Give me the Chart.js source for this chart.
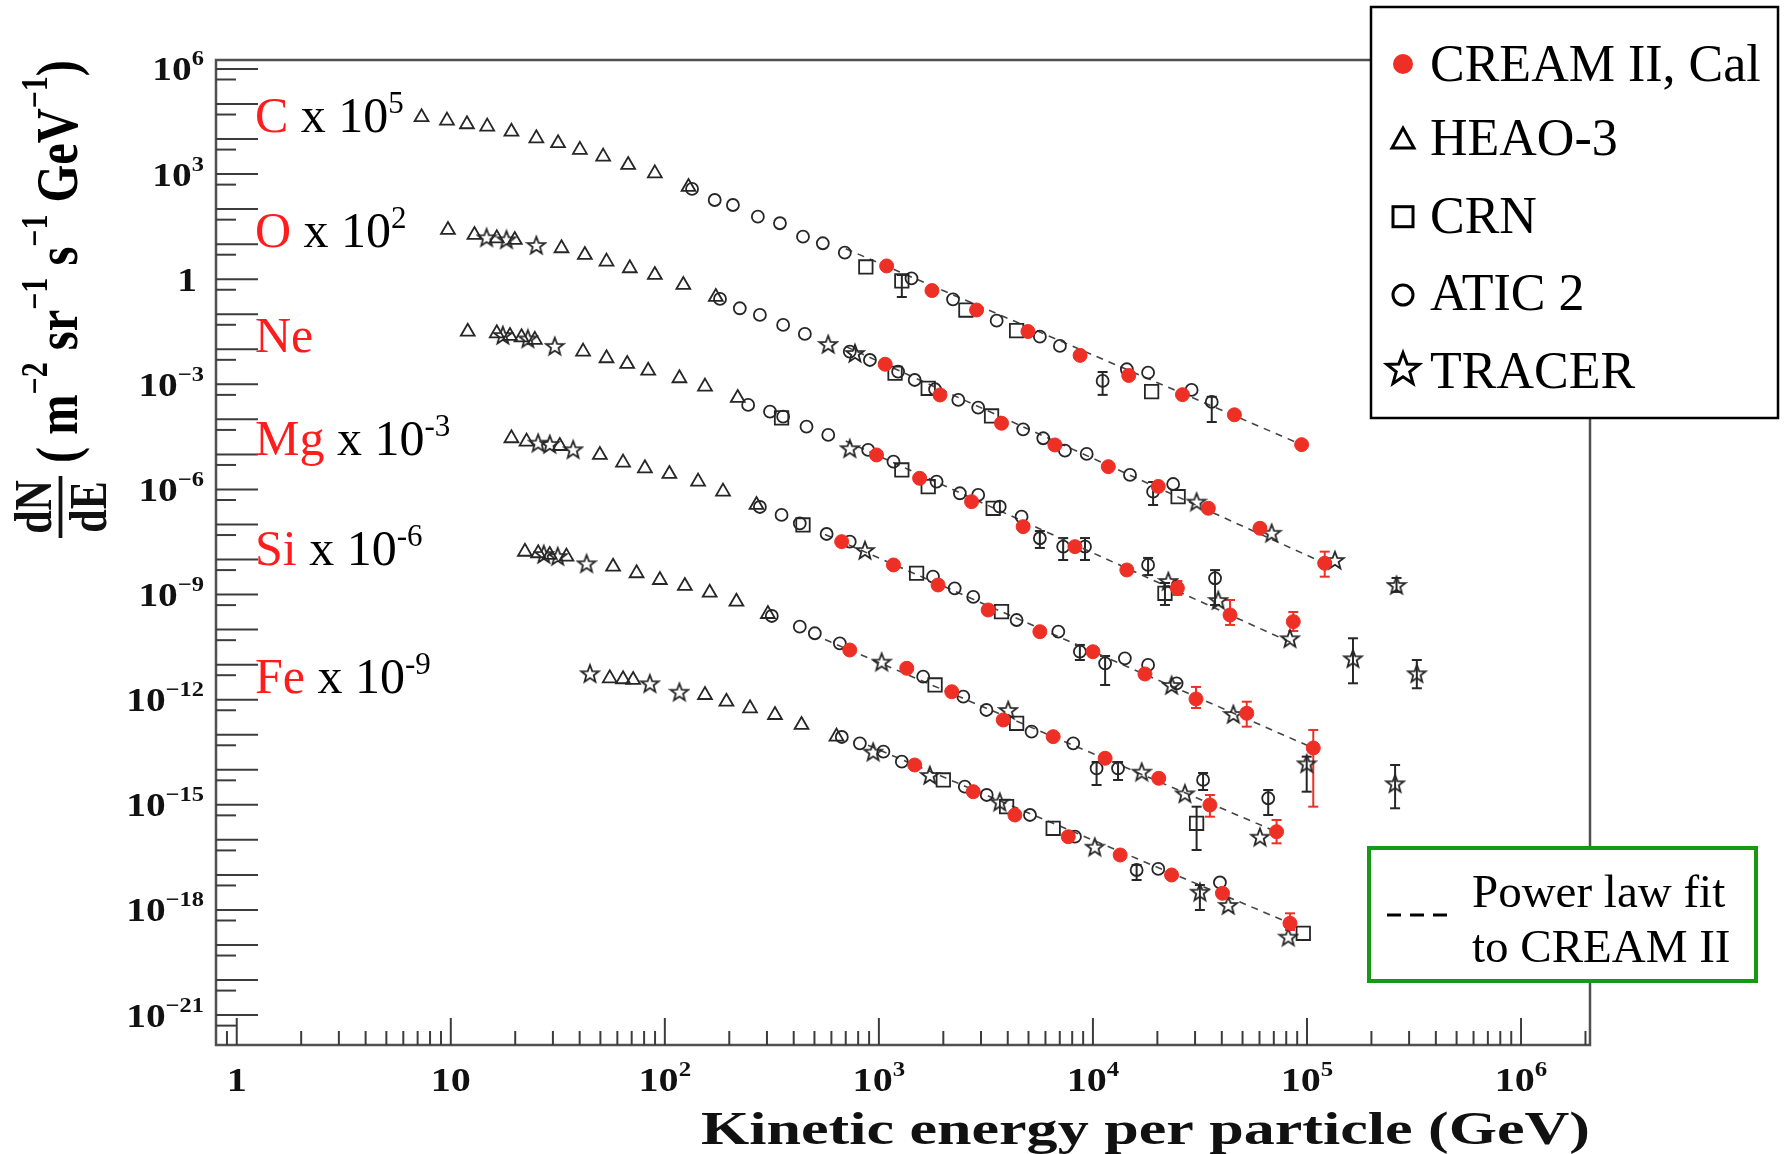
<!DOCTYPE html>
<html>
<head>
<meta charset="utf-8">
<title>CREAM II energy spectra</title>
<script src="https://cdn.jsdelivr.net/npm/chart.js@4.4.1/dist/chart.umd.min.js"></script>
<style>
  html, body { margin: 0; padding: 0; background: #fff; }
</style>
</head>
<body>
<canvas id="chart1" width="1787" height="1154"></canvas>
<script>
// values: [energy GeV, flux (already scaled), err low, err high]

// carbon x 10^5
var cHeao = [[7.3,4.2e4],[9.6,3.35e4],[11.9,2.64e4],[14.8,2.26e4],[19.2,1.62e4],[25.1,1.05e4],[31.7,7.6e3],[40.1,4.9e3],[51.5,3.14e3],[67.4,1.82e3],[89.8,1.05e3],[129,429]];
var cCrn = [[869,2.23],[1280,0.89,0.31,1.32],[2550,0.132],[4400,0.034],[18800,6.2e-4]];
var cAtic = [[134,376],[171,182],[208,131],[272,61],[345,39.5],[442,16.4],[547,10.6],[693,5.71],[1420,1.06],[2220,0.267],[3550,0.0656],[5650,0.0229],[7010,0.0125],[11100,1.25e-3,5.0e-4,2.25e-3],[14400,2.69e-3],[18100,2.15e-3],[28900,6.9e-4],[35900,3.14e-4,8.4e-5,4.4e-4]];
var cTracer = [];
var cCream = [[1087,2.39],[1770,0.474],[2860,0.132],[4970,0.0321],[8710,6.7e-3],[14700,1.79e-3],[26200,5.07e-4],[45800,1.35e-4],[94400,1.9e-5,1.5e-5,2.4e-5]];
var cFit = [[700,7.4],[94400,1.9e-5]];

// oxygen x 10^2
var oHeao = [[9.7,25.4],[12.9,18.3],[16.4,14.7],[19.9,13.2],[32.9,7.64],[42.3,4.92],[53.4,3.17],[68.6,2.05],[89.8,1.32],[122,0.685],[173,0.311]];
var oCrn = [[1190,2.07e-3],[1700,7.72e-4],[3360,1.25e-4],[25000,6.2e-7]];
var oAtic = [[181,0.273],[224,0.148],[278,0.0953],[357,0.0494],[451,0.0274],[731,8.55e-3],[908,4.95e-3],[1230,2.3e-3],[1470,1.33e-3],[1830,7.23e-4],[2350,3.58e-4],[2910,2.16e-4],[4720,5.21e-5],[5860,2.89e-5],[7400,1.28e-5],[9350,1.03e-5],[14900,2.59e-6],[19100,8.65e-7,3.6e-7,1.63e-6],[23700,1.43e-6]];
var oTracer = [[14.7,15.7],[18.2,13.8],[25.1,9.48],[580,0.0142],[773,7.85e-3],[30500,4.5e-7],[68400,5.8e-8],[135000,9.7e-9],[262000,1.88e-9,1.19e-9,2.98e-9]];
var oCream = [[1070,3.74e-3],[1930,4.97e-4],[3740,7.74e-5],[6640,1.86e-5],[11800,4.47e-6],[20200,1.22e-6],[34600,2.9e-7],[60300,7.8e-8],[121000,7.8e-9,3.24e-9,1.68e-8]];
var oFit = [[700,0.012],[121000,7.8e-9]];

// neon
var neHeao = [[12.0,0.0318],[16.4,0.0286],[18.9,0.024],[21.4,0.022],[24.7,0.0185],[41.5,8.55e-3],[53.4,5.55e-3],[66.7,3.81e-3],[83.6,2.45e-3],[117,1.49e-3],[154,8.57e-4],[219,4.08e-4]];
var neCrn = [[351,1.1e-4],[1280,3.6e-6],[1700,1.2e-6],[3420,2.9e-7],[21700,1.09e-9,5.05e-10,2.14e-9]];
var neAtic = [[245,2.58e-4],[310,1.66e-4],[357,1.19e-4],[459,6.19e-5],[580,3.59e-5],[891,1.34e-5],[1170,6.21e-6],[1860,1.67e-6],[2390,7.78e-7],[2910,7.0e-7],[3670,3.23e-7],[4640,1.67e-7],[5650,4.05e-8,2.14e-8,6.5e-8],[7260,2.33e-8,9.7e-9,4.1e-8],[9180,2.33e-8,9.7e-9,4.1e-8],[18100,7.0e-9,3.6e-9,1.11e-8],[37200,2.92e-9,5.05e-10,5.0e-9]];
var neTracer = [[17.5,0.0256],[22.9,0.0204],[30.6,0.0125],[731,1.5e-5],[22500,2.44e-9],[38500,7.0e-10],[83300,5.66e-11],[164000,1.52e-11,2.94e-12,5.66e-11],[326000,5.68e-12,2.12e-12,1.36e-11]];
var neCream = [[975,9.64e-6],[1550,2.08e-6],[2710,4.48e-7],[4720,8.67e-8],[8240,2.33e-8],[14400,5.04e-9],[24800,1.54e-9,9.75e-10,2.44e-9],[43700,2.62e-10,1.36e-10,7.0e-10],[86300,1.69e-10,9.1e-11,3.18e-10]];
var neFit = [[700,2.4e-5],[86300,4.0e-11]];

// magnesium x 10^-3
var mgHeao = [[19.2,2.89e-5],[22.6,2.31e-5],[32.3,1.74e-5],[49.7,9.64e-6],[63.8,5.81e-6],[80.7,4.02e-6],[105,2.77e-6],[143,1.67e-6],[187,8.65e-7],[268,3.61e-7]];
var mgCrn = [[442,9.68e-8],[1500,4.06e-9],[3740,3.25e-10]];
var mgAtic = [[278,3.16e-7],[351,1.87e-7],[427,1.08e-7],[570,5.36e-8],[731,3.24e-8],[1790,3.24e-9],[2260,1.51e-9],[2760,8.55e-10],[4400,1.88e-10],[6890,8.73e-11],[8690,2.34e-11,1.36e-11,3.65e-11],[11400,1.09e-11,2.63e-12,1.77e-11],[14100,1.52e-11],[18100,9.8e-12],[24600,2.94e-12]];
var mgTracer = [[25.6,2.16e-5],[29,1.99e-5],[37.3,1.4e-5],[861,1.87e-8],[23300,2.63e-12],[45300,3.91e-13],[99700,1.53e-14,2.37e-15,2.37e-14],[258000,4.12e-15,7.96e-16,1.37e-14]];
var mgCream = [[670,3.24e-8],[1170,7.0e-9],[1890,1.88e-9],[3240,3.63e-10],[5650,8.73e-11],[10000,2.34e-11],[17500,5.42e-12],[30300,1.05e-12,5.8e-13,2.31e-12],[52300,4.1e-13,1.7e-13,8.77e-13],[107000,4.19e-14,8.85e-16,1.37e-13]];
var mgFit = [[560,5.2e-8],[100000,5.0e-14]];

// silicon x 10^-6
var siHeao = [[22.2,1.67e-8],[25.6,1.51e-8],[29,1.35e-8],[34.7,1.21e-8],[57.3,6.25e-9],[73.8,4.06e-9],[94.8,2.61e-9],[124,1.76e-9],[162,1.13e-9],[216,6.27e-10],[303,2.79e-10]];
var siCrn = [[1830,2.63e-12],[4400,2.12e-13],[30500,2.97e-16,5.14e-17,8.85e-16]];
var siAtic = [[316,2.45e-10],[427,1.21e-10],[502,7.87e-11],[657,4.07e-11],[1610,4.54e-12],[2480,1.22e-12],[3180,5.09e-13],[5170,1.22e-13],[8090,5.7e-14],[10400,1.1e-14,3.68e-15,1.67e-14],[13100,1.1e-14,5.12e-15,1.67e-14],[32700,5.12e-15,2.65e-15,8.1e-15],[65900,1.54e-15,5.13e-16,2.65e-15]];
var siTracer = [[27.2,1.44e-8],[31.6,1.26e-8],[43.1,7.82e-9],[1030,1.22e-11],[4020,5.09e-13],[16900,8.83e-15],[26900,2.13e-15],[60300,1.23e-16]];
var siCream = [[731,2.62e-11],[1350,7.88e-12],[2190,1.69e-12],[3810,2.64e-13],[6520,8.81e-14],[11400,2.13e-14],[20300,5.71e-15],[35200,9.89e-16,4.59e-16,1.91e-15],[72100,1.71e-16,7.98e-17,3.69e-16]];
var siFit = [[560,5.2e-11],[72100,1.7e-16]];

// iron x 10^-9
var feHeao = [[55.3,4.08e-12],[63.8,3.83e-12],[71.1,3.66e-12],[154,1.36e-12],[194,8.77e-13],[250,5.69e-13],[327,3.66e-13],[435,1.9e-13],[634,8.81e-14]];
var feCrn = [[2000,5.12e-15],[3950,8.85e-16],[6520,2.14e-16],[96100,2.16e-19]];
var feAtic = [[671,8.63e-14],[815,5.7e-14],[1050,3.29e-14],[1280,1.7e-14],[2520,3.3e-15],[3190,1.91e-15],[5080,5.13e-16],[8240,1.23e-16],[16000,1.38e-17,7.16e-18,1.92e-17],[20200,1.48e-17],[39200,6.08e-18]];
var feTracer = [[44.7,5.68e-12],[85.1,2.94e-12],[117,1.69e-12],[940,3.29e-14],[1730,7.11e-15],[3670,1.23e-15],[10200,6.38e-17],[31600,3.32e-18,9.98e-19,5.15e-18],[42900,1.39e-18],[81800,1.73e-19]];
var feCream = [[1470,1.37e-14],[2760,2.37e-15],[4320,5.13e-16],[7670,1.23e-16],[13400,3.7e-17],[23300,9.95e-18],[40300,2.99e-18],[83300,4.16e-19,2.68e-19,8.02e-19]];
var feFit = [[890,5.0e-14],[83300,4.2e-19]];

// labels
var elementNames = ['C', 'O', 'Ne', 'Mg', 'Si', 'Fe'];
var elementPowers = ['5', '2', '', '-3', '-6', '-9'];
var legendLabels = ['CREAM II, Cal', 'HEAO-3', 'CRN', 'ATIC 2', 'TRACER'];
var fitLabel = ['Power law fit', 'to CREAM II'];
var xTickExps = [0, 1, 2, 3, 4, 5, 6];
var yTickExps = [6, 3, 0, -3, -6, -9, -12, -15, -18, -21];
var xTitle = 'Kinetic energy per particle (GeV)';

var SERIF = '"Liberation Serif", "Times New Roman", serif';
var RED = '#ee2f25';
var INK = '#262626';

function font(size, bold) {
    return (bold ? 'bold ' : '') + size + 'px ' + SERIF;
}

function pts(arr) {
    return arr.map(function (p) {
        return { x: p[0], y: p[1], lo: p[2], hi: p[3] };
    });
}

// 5 point star path (chart.js 'star' is an asterisk)
function starPath(g, cx, cy, r) {
    var ri = r * 0.42;
    g.beginPath();
    for (var i = 0; i < 10; i++) {
        var a = -Math.PI / 2 + i * Math.PI / 5;
        var rr = (i % 2) ? ri : r;
        g.lineTo(cx + rr * Math.cos(a), cy + rr * Math.sin(a) + r * 0.1);
    }
    g.closePath();
}

function starImage(size, lw) {
    var c = document.createElement('canvas');
    c.width = size;
    c.height = size;
    var g = c.getContext('2d');
    starPath(g, size / 2, size / 2, size / 2 - lw);
    g.lineWidth = lw;
    g.strokeStyle = INK;
    g.stroke();
    return c;
}

var starMark = starImage(22, 1.8);

var datasets = [];

function addElement(heao, crn, atic, tracer, cream, fit) {
    datasets.push({ data: pts(cream), pointStyle: 'circle', pointRadius: 7, backgroundColor: RED, borderColor: RED, borderWidth: 1, errColor: RED, order: 0 });
    datasets.push({ data: pts(tracer), pointStyle: starMark, backgroundColor: 'rgba(0,0,0,0)', borderColor: INK, errColor: INK, order: 1 });
    datasets.push({ data: pts(atic), pointStyle: 'circle', pointRadius: 6, backgroundColor: 'rgba(0,0,0,0)', borderColor: INK, borderWidth: 1.8, errColor: INK, order: 2 });
    datasets.push({ data: pts(crn), pointStyle: 'rect', pointRadius: 9.5, backgroundColor: 'rgba(0,0,0,0)', borderColor: INK, borderWidth: 1.8, errColor: INK, order: 3 });
    datasets.push({ data: pts(heao), pointStyle: 'triangle', pointRadius: 8, backgroundColor: 'rgba(0,0,0,0)', borderColor: INK, borderWidth: 1.8, errColor: INK, order: 4 });
    datasets.push({ data: pts(fit), showLine: true, pointRadius: 0, borderColor: '#444', borderWidth: 1.6, borderDash: [7, 6], fill: false, order: 5 });
}

addElement(cHeao, cCrn, cAtic, cTracer, cCream, cFit);
addElement(oHeao, oCrn, oAtic, oTracer, oCream, oFit);
addElement(neHeao, neCrn, neAtic, neTracer, neCream, neFit);
addElement(mgHeao, mgCrn, mgAtic, mgTracer, mgCream, mgFit);
addElement(siHeao, siCrn, siAtic, siTracer, siCream, siFit);
addElement(feHeao, feCrn, feAtic, feTracer, feCream, feFit);

// text with superscripts, parts = [{t, sup, c}]
function drawRich(ctx, parts, x, y, size, bold, raise) {
    ctx.textAlign = 'left';
    parts.forEach(function (p) {
        ctx.font = font(p.sup ? size * 0.62 : size, bold);
        ctx.fillStyle = p.c || '#000';
        ctx.fillText(p.t, x, p.sup ? y - raise : y);
        x += ctx.measureText(p.t).width;
    });
    return x;
}

function richWidth(ctx, parts, size, bold) {
    var w = 0;
    parts.forEach(function (p) {
        ctx.font = font(p.sup ? size * 0.62 : size, bold);
        w += ctx.measureText(p.t).width;
    });
    return w;
}

function line(ctx, x1, y1, x2, y2) {
    ctx.beginPath();
    ctx.moveTo(x1, y1);
    ctx.lineTo(x2, y2);
    ctx.stroke();
}

var paperPlugin = {
    id: 'paper',
    beforeDatasetsDraw: function (chart) {
        // vertical error bars under the markers
        var ctx = chart.ctx;
        var ys = chart.scales.y;
        ctx.save();
        ctx.lineWidth = 2;
        chart.data.datasets.forEach(function (ds, i) {
            var meta = chart.getDatasetMeta(i);
            meta.data.forEach(function (el, j) {
                var raw = ds.data[j];
                if (raw.lo === undefined) return;
                var y1 = ys.getPixelForValue(raw.lo);
                var y2 = ys.getPixelForValue(raw.hi);
                ctx.strokeStyle = ds.errColor;
                line(ctx, el.x, y1, el.x, y2);
                line(ctx, el.x - 5, y1, el.x + 5, y1);
                line(ctx, el.x - 5, y2, el.x + 5, y2);
            });
        });
        ctx.restore();
    },
    afterDraw: function (chart) {
        var ctx = chart.ctx;
        var a = chart.chartArea;
        var xs = chart.scales.x;
        var ys = chart.scales.y;
        ctx.save();

        // frame
        ctx.strokeStyle = '#505050';
        ctx.lineWidth = 2.5;
        ctx.strokeRect(a.left, a.top, a.right - a.left, a.bottom - a.top);

        // y ticks, inside the frame
        ctx.lineWidth = 2;
        ctx.strokeStyle = '#3c3c3c';
        for (var n = -22; n <= 6; n++) {
            var yd = ys.getPixelForValue(Math.pow(10, n));
            if (yd > a.top && yd < a.bottom) line(ctx, a.left, yd, a.left + 42, yd);
            var ym = ys.getPixelForValue(5 * Math.pow(10, n - 1));
            if (ym > a.top && ym < a.bottom) line(ctx, a.left, ym, a.left + 20, ym);
        }
        // x ticks
        for (var e = -1; e <= 6; e++) {
            for (var k = 1; k <= 9; k++) {
                var v = k * Math.pow(10, e);
                var px = xs.getPixelForValue(v);
                if (px <= a.left + 1 || px >= a.right) continue;
                line(ctx, px, a.bottom, px, a.bottom - (k === 1 ? 27 : 14));
            }
        }

        // y tick labels, right aligned
        ctx.textBaseline = 'alphabetic';
        yTickExps.forEach(function (n) {
            var y = ys.getPixelForValue(Math.pow(10, n));
            var parts = (n === 0) ? [{ t: '1', c: '#111' }] :
                [{ t: '10', c: '#111' }, { t: (n < 0 ? '\u2212' + (-n) : '' + n), sup: true, c: '#111' }];
            var w = richWidth(ctx, parts, 34, true) * 1.16;
            ctx.save();
            ctx.translate((n === 0 ? 197 : 204) - w, y + 11.5);
            ctx.scale(1.16, 1);
            drawRich(ctx, parts, 0, 0, 34, true, 15);
            ctx.restore();
        });

        // x tick labels
        xTickExps.forEach(function (n) {
            var x = xs.getPixelForValue(Math.pow(10, n));
            var parts;
            if (n === 0) parts = [{ t: '1', c: '#111' }];
            else if (n === 1) parts = [{ t: '10', c: '#111' }];
            else parts = [{ t: '10', c: '#111' }, { t: '' + n, sup: true, c: '#111' }];
            var w = richWidth(ctx, parts, 34, true) * 1.18;
            ctx.save();
            ctx.translate(x - w / 2, 1091);
            ctx.scale(1.18, 1);
            drawRich(ctx, parts, 0, 0, 34, true, 15);
            ctx.restore();
        });

        // x title
        ctx.save();
        ctx.font = font(47, true);
        var tw = ctx.measureText(xTitle).width;
        ctx.translate(1590, 1144);
        ctx.scale(889 / tw, 1);
        ctx.textAlign = 'right';
        ctx.fillStyle = '#111';
        ctx.fillText(xTitle, 0, 0);
        ctx.restore();

        // y title, rotated
        var units = [{ t: '( m' }, { t: '\u22122', sup: true }, { t: ' sr' }, { t: '\u22121', sup: true }, { t: ' s' }, { t: '\u22121', sup: true }, { t: ' GeV' }, { t: '\u22121', sup: true }, { t: ')' }];
        var uw = richWidth(ctx, units, 48, true);
        ctx.save();
        ctx.translate(77, 463);
        ctx.rotate(-Math.PI / 2);
        ctx.scale(403 / uw, 1.25);
        drawRich(ctx, units, 0, 0, 48, true, 24);
        ctx.restore();

        ctx.save();
        ctx.translate(58, 507);
        ctx.rotate(-Math.PI / 2);
        ctx.scale(1, 1.25);
        ctx.font = font(42, true);
        ctx.fillStyle = '#111';
        ctx.textAlign = 'center';
        ctx.fillText('dN', 0, -6);
        ctx.fillText('dE', 0, 38);
        ctx.strokeStyle = '#111';
        ctx.lineWidth = 3;
        line(ctx, -31, 2, 31, 2);
        ctx.restore();

        // element labels
        var baselines = [131.7, 246.7, 351.7, 455, 565, 693.3];
        elementNames.forEach(function (name, i) {
            var parts = [{ t: name, c: '#ff1c1c' }];
            if (elementPowers[i] !== '') {
                parts.push({ t: ' x 10', c: '#000' });
                parts.push({ t: elementPowers[i], sup: true, c: '#000' });
            }
            drawRich(ctx, parts, 255, baselines[i], 50, false, 19);
        });

        // legend box
        ctx.fillStyle = '#fff';
        ctx.fillRect(1371, 7, 407, 411);
        ctx.strokeStyle = '#000';
        ctx.lineWidth = 2.5;
        ctx.strokeRect(1371, 7, 407, 411);
        var ly = [81, 155, 232.7, 310, 388.3];
        ctx.font = font(52, false);
        ctx.fillStyle = '#000';
        ctx.textAlign = 'left';
        legendLabels.forEach(function (lab, i) {
            ctx.fillText(lab, 1430, ly[i]);
        });
        var mx = 1403;
        ctx.fillStyle = RED;
        ctx.beginPath();
        ctx.arc(mx, 64, 10, 0, Math.PI * 2);
        ctx.fill();
        ctx.strokeStyle = '#000';
        ctx.lineWidth = 3;
        ctx.beginPath();
        ctx.moveTo(mx, 128);
        ctx.lineTo(mx + 11, 148);
        ctx.lineTo(mx - 11, 148);
        ctx.closePath();
        ctx.stroke();
        ctx.strokeRect(mx - 10, 206.7, 20, 20);
        ctx.beginPath();
        ctx.arc(mx, 295, 10, 0, Math.PI * 2);
        ctx.stroke();
        starPath(ctx, mx, 368, 17);
        ctx.stroke();

        // fit legend box
        ctx.fillStyle = '#fff';
        ctx.fillRect(1369, 848, 387, 133);
        ctx.strokeStyle = '#169a16';
        ctx.lineWidth = 4;
        ctx.strokeRect(1369, 848, 387, 133);
        ctx.strokeStyle = '#000';
        ctx.lineWidth = 3;
        for (var d = 0; d < 3; d++) line(ctx, 1387 + d * 23, 915, 1401 + d * 23, 915);
        ctx.font = font(47, false);
        ctx.fillStyle = '#000';
        ctx.fillText(fitLabel[0], 1472, 906.7);
        ctx.fillText(fitLabel[1], 1472, 961.7);

        ctx.restore();
    }
};

var myChart = document.getElementById('chart1').getContext('2d');
var chart = new Chart(myChart, {
    type: 'scatter',
    data: { datasets: datasets },
    options: {
        responsive: false,
        animation: false,
        events: [],
        layout: { padding: { left: 0, right: 197, top: 60, bottom: 0 } },
        plugins: {
            legend: { display: false },
            tooltip: { enabled: false }
        },
        scales: {
            x: {
                type: 'logarithmic',
                min: 0.8,
                max: 2.1e6,
                grid: { display: false },
                border: { display: false },
                ticks: { display: false },
                afterFit: function (s) { s.height = 109; }
            },
            y: {
                type: 'logarithmic',
                min: 1.4e-22,
                max: 1.8e6,
                grid: { display: false },
                border: { display: false },
                ticks: { display: false },
                afterFit: function (s) { s.width = 216; }
            }
        }
    },
    plugins: [paperPlugin]
});
</script>
</body>
</html>
